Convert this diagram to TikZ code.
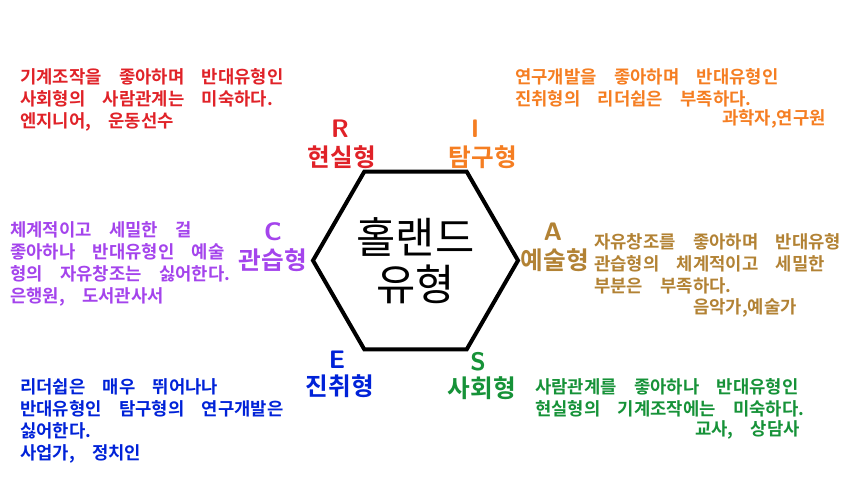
\documentclass[tikz,border=0pt]{standalone}
\usepackage{fontspec}
\usepackage{tikz}
\usetikzlibrary{shapes.geometric,positioning}
\newfontfamily\kor{Noto Sans CJK KR}[BoldFont={Noto Sans CJK KR Bold}]
\definecolor{realred}{RGB}{224,34,40}
\definecolor{invorange}{RGB}{245,126,34}
\definecolor{artgold}{RGB}{178,130,52}
\definecolor{socgreen}{RGB}{22,146,56}
\definecolor{entblue}{RGB}{0,34,216}
\definecolor{convpurple}{RGB}{164,68,236}
\newcommand{\bodyfont}{\kor\bfseries\fontsize{13.3}{16.5}\selectfont\spaceskip=13pt\relax}
\tikzset{
  desc/.style={
    anchor=north west,
    align=left,
    inner sep=0pt,
    font=\bodyfont
  },
  job/.style={
    inner sep=0pt,
    font=\bodyfont
  },
  typename/.style={
    inner sep=0pt,
    font=\kor\bfseries\fontsize{18.5}{21}\selectfont
  },
  typeletter/.style={
    inner sep=0pt,
    font=\sffamily\bfseries\fontsize{19}{21}\selectfont
  },
  hexbox/.style={
    regular polygon,
    regular polygon sides=6,
    minimum size=153.75pt,
    inner sep=0pt,
    draw=black,
    line width=3pt,
    align=center,
    font=\kor\fontsize{32}{35}\selectfont
  }
}
\begin{document}
\begin{tikzpicture}[x=0.75pt,y=-0.75pt]
\useasboundingbox (0,0) rectangle (850,497);
\node[hexbox] (hex) at (415.5,260.5) {홀랜드\\유형};
% type names round the hexagon
\node[typename, text=realred] (rname) at (342,157) {현실형};
\node[typeletter, text=realred] (rlet) at (340,129) {R};
\node[typename, text=invorange] (iname) at (483,157) {탐구형};
\node[typeletter, text=invorange] (ilet) at (475,129) {I};
\node[typename, text=artgold] (aname) at (555,260) {예술형};
\node[typeletter, text=artgold] (alet) at (553,232) {A};
\node[typename, text=socgreen] (sname) at (482,388) {사회형};
\node[typeletter, text=socgreen] (slet) at (478,362) {S};
\node[typename, text=entblue] (ename) at (340,386) {진취형};
\node[typeletter, text=entblue] (elet) at (337,360) {E};
\node[typename, text=convpurple] (cname) at (273,260) {관습형};
\node[typeletter, text=convpurple] (clet) at (273,232) {C};
% descriptions
\node[desc, text=realred] (rdesc) at (20,68) {기계조작을 좋아하며 반대유형인\\사회형의 사람관계는 미숙하다.\\엔지니어, 운동선수};
\node[desc, text=invorange] (idesc) at (515,68) {연구개발을 좋아하며 반대유형인\\진취형의 리더쉽은 부족하다.};
\node[job, text=invorange, anchor=east] (ijob) at (826,119) {과학자,연구원};
\node[desc, text=artgold] (adesc) at (594,233) {자유창조를 좋아하며 반대유형\\관습형의 체계적이고 세밀한\\부분은 부족하다.};
\node[job, text=artgold, anchor=west] (ajob) at (693,308) {음악가,예술가};
\node[desc, text=socgreen] (sdesc) at (535,378) {사람관계를 좋아하나 반대유형인\\현실형의 기계조작에는 미숙하다.};
\node[job, text=socgreen, anchor=east] (sjob) at (800,430) {교사, 상담사};
\node[desc, text=entblue] (edesc) at (20,378) {리더쉽은 매우 뛰어나나\\반대유형인 탐구형의 연구개발은\\싫어한다.\\사업가, 정치인};
\node[desc, text=convpurple] (cdesc) at (10,221) {체계적이고 세밀한 걸\\좋아하나 반대유형인 예술\\형의 자유창조는 싫어한다.\\은행원, 도서관사서};
\end{tikzpicture}
\end{document}
